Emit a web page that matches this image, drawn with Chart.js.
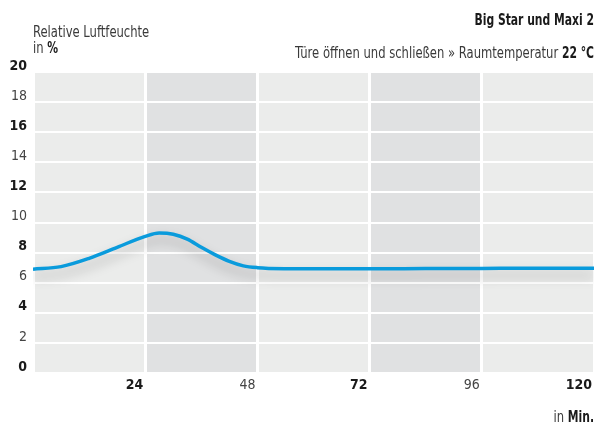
<!DOCTYPE html>
<html>
<head>
<meta charset="utf-8">
<title>Relative Luftfeuchte</title>
<script src="https://cdn.jsdelivr.net/npm/chart.js@4/dist/chart.umd.min.js"></script>
<style>
	html, body { margin: 0; padding: 0; background: #ffffff; }
	#wrap { position: relative; width: 602px; height: 427px; }
</style>
</head>
<body>
<div id="wrap"><canvas id="myChart" width="602" height="427"></canvas></div>
<script>
// minutes after the door was opened and closed
var timeLabels = [0, 6, 12, 18, 24, 27, 30, 33, 36, 39, 42, 45, 48, 54, 60, 72, 84, 96, 108, 120];
// relative humidity in %
var humidityValues = [6.9, 7.07, 7.62, 8.35, 9.08, 9.3, 9.22, 8.9, 8.35, 7.85, 7.42, 7.12, 7.0, 6.93, 6.92, 6.92, 6.94, 6.95, 6.96, 6.96];

var yTicks = [0, 2, 4, 6, 8, 10, 12, 14, 16, 18, 20];
var xTicks = [0, 24, 48, 72, 96, 120];
var darkBands = [[24, 48], [72, 96]];

var yAxisTitle = 'Relative Luftfeuchte';
var yAxisUnit = '%';
var chartTitle = 'Big Star und Maxi 2';
var chartSubtitle = 'Türe öffnen und schließen » Raumtemperatur ';
var chartSubtitleBold = '22 °C';
var xAxisUnit = 'Min.';

var fontFamily = '"DejaVu Sans Condensed", "Liberation Sans Narrow", sans-serif';

function getPoints() {
	var points = [];
	for (var i = 0; i < timeLabels.length; i++) {
		points.push({ x: timeLabels[i], y: humidityValues[i] });
	}
	return points;
}

function tickFont(bold) {
	return { family: fontFamily, size: 14, weight: bold ? 'bold' : 'normal' };
}

var bandsPlugin = {
	id: 'bands',
	beforeDraw: function (chart) {
		var ctx = chart.ctx;
		var area = chart.chartArea;
		var x = chart.scales.x;
		ctx.save();
		ctx.fillStyle = '#ebeceb';
		ctx.fillRect(area.left, area.top, area.right - area.left, area.bottom - area.top);
		ctx.fillStyle = '#e0e1e2';
		for (var i = 0; i < darkBands.length; i++) {
			var x1 = x.getPixelForValue(darkBands[i][0]);
			var x2 = x.getPixelForValue(darkBands[i][1]);
			ctx.fillRect(x1, area.top, x2 - x1, area.bottom - area.top);
		}
		ctx.restore();
	}
};

var shadowPlugin = {
	id: 'lineShadow',
	beforeDatasetsDraw: function (chart) {
		var ctx = chart.ctx;
		ctx.save();
		ctx.shadowColor = 'rgba(0, 0, 0, 0.27)';
		ctx.shadowBlur = 12;
		ctx.shadowOffsetY = 7;
	},
	afterDatasetsDraw: function (chart) {
		chart.ctx.restore();
	}
};

// condensed look: squeeze the glyphs horizontally
function drawMixed(ctx, parts, x, y, alignRight) {
	var total = 0;
	for (var i = 0; i < parts.length; i++) {
		ctx.font = (parts[i].bold ? 'bold ' : '') + '16px ' + fontFamily;
		parts[i].s = parts[i].bold ? 0.75 : 0.805;
		parts[i].w = ctx.measureText(parts[i].text).width * parts[i].s;
		total += parts[i].w;
	}
	var cx = alignRight ? x - total : x;
	for (var j = 0; j < parts.length; j++) {
		ctx.font = (parts[j].bold ? 'bold ' : '') + '16px ' + fontFamily;
		ctx.fillStyle = parts[j].bold ? '#1a1a1a' : '#3a3a3a';
		ctx.save();
		ctx.translate(cx, y);
		ctx.scale(parts[j].s, 1);
		ctx.fillText(parts[j].text, 0, 0);
		ctx.restore();
		cx += parts[j].w;
	}
}

var textPlugin = {
	id: 'texts',
	afterDraw: function (chart) {
		var ctx = chart.ctx;
		var area = chart.chartArea;
		ctx.save();
		ctx.textAlign = 'left';
		ctx.textBaseline = 'alphabetic';
		drawMixed(ctx, [{ text: yAxisTitle }], area.left, 37, false);
		drawMixed(ctx, [{ text: 'in ' }, { text: yAxisUnit, bold: true }], area.left, 53, false);
		drawMixed(ctx, [{ text: chartTitle, bold: true }], area.right, 25, true);
		drawMixed(ctx, [{ text: chartSubtitle }, { text: chartSubtitleBold, bold: true }], area.right, 58, true);
		drawMixed(ctx, [{ text: 'in ' }, { text: xAxisUnit, bold: true }], area.right, 422, true);
		ctx.restore();
	}
};

var chart = document.getElementById('myChart').getContext('2d');
var myChart = new Chart(chart, {
	type: 'line',
	data: {
		datasets: [{
			label: 'Relative Luftfeuchte',
			data: getPoints(),
			borderColor: '#0a9bdc',
			borderWidth: 3.5,
			pointRadius: 0,
			fill: false,
			cubicInterpolationMode: 'monotone'
		}]
	},
	options: {
		responsive: false,
		animation: false,
		layout: { padding: { top: 72, right: 8, left: 0, bottom: 0 } },
		plugins: {
			legend: { display: false },
			tooltip: { enabled: false }
		},
		scales: {
			x: {
				type: 'linear',
				min: 0,
				max: 120,
				afterBuildTicks: function (scale) {
					scale.ticks = xTicks.map(function (v) { return { value: v }; });
				},
				afterFit: function (scale) { scale.height = 54; },
				border: { display: false },
				grid: { color: '#ffffff', lineWidth: 3, drawTicks: false },
				ticks: {
					align: 'end',
					labelOffset: -2,
					padding: 4,
					maxRotation: 0,
					autoSkip: false,
					callback: function (value) { return value === 0 ? '' : value; },
					font: function (ctx) { return tickFont(ctx.tick && ctx.tick.value % 48 === 24); },
					color: function (ctx) { return ctx.tick && ctx.tick.value % 48 === 24 ? '#1a1a1a' : '#444444'; }
				}
			},
			y: {
				min: 0,
				max: 20,
				afterBuildTicks: function (scale) {
					scale.ticks = yTicks.map(function (v) { return { value: v }; });
				},
				afterFit: function (scale) { scale.width = 33; },
				border: { display: false },
				grid: { color: '#ffffff', lineWidth: 2, drawTicks: false },
				ticks: {
					padding: 6,
					labelOffset: -6,
					autoSkip: false,
					font: function (ctx) { return tickFont(ctx.tick && ctx.tick.value % 4 === 0); },
					color: function (ctx) { return ctx.tick && ctx.tick.value % 4 === 0 ? '#1a1a1a' : '#444444'; }
				}
			}
		}
	},
	plugins: [bandsPlugin, shadowPlugin, textPlugin]
});
</script>
</body>
</html>
